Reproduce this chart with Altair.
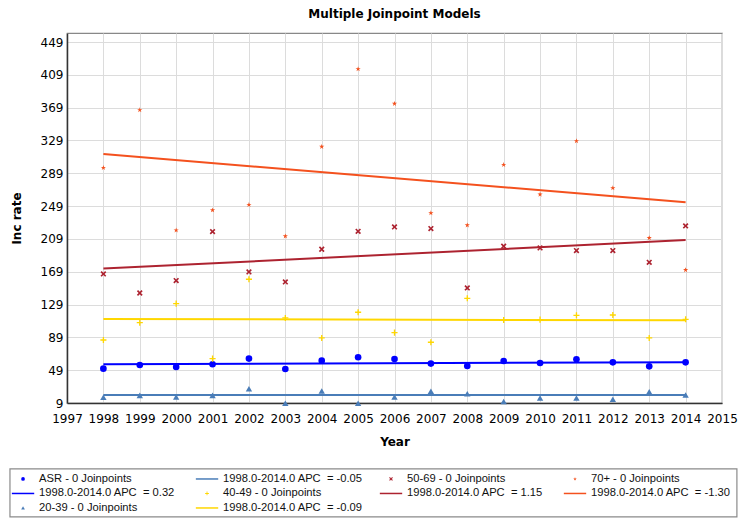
import altair as alt
import pandas as pd

# ---------------- data ----------------
years = list(range(1998, 2015))
series_names = ["ASR", "20-39", "40-49", "50-69", "70+"]

asr = [50.9, 55.3, 52.9, 56.2, 63.1, 50.5, 60.6, 64.7, 62.7, 57.0, 54.1, 60.2, 57.8, 62.3, 58.6, 53.7, 58.6]
age_20_39 = [15.9, 18.3, 16.3, 18.3, 26.5, 8.8, 23.6, 8.8, 16.3, 23.2, 20.4, 10.8, 15.1, 15.1, 13.5, 22.8, 18.8]
age_40_49 = [85.8, 107.0, 130.1, 63.1, 159.8, 112.7, 88.3, 119.6, 94.8, 83.0, 136.6, 110.2, 110.6, 115.9, 116.3, 88.3, 111.0]
age_50_69 = [166.3, 143.1, 158.2, 217.9, 168.8, 156.6, 196.4, 218.3, 223.6, 221.6, 149.2, 200.1, 198.0, 194.8, 194.8, 180.5, 224.9]
age_70p = [295.7, 366.1, 219.6, 244.1, 250.6, 212.3, 321.4, 416.1, 373.8, 240.5, 225.7, 299.4, 263.2, 328.3, 271.0, 210.2, 171.2]

fit_years = [1998, 2014]
fit_start = [56.2, 18.8, 111.4, 172.8, 312.4]
fit_end = [58.8, 18.6, 109.8, 207.6, 253.6]
apc_labels = ["0.32", "-0.05", "-0.09", "1.15", "-1.30"]

x_ticks = list(range(1997, 2016))
y_ticks = list(range(9, 450, 40))

# ---------------- styles ----------------
colors = ["#0000ff", "#4a7db8", "#ffd700", "#ad2330", "#f4511e"]
star = ("M0,-1L0.2245,-0.309L0.9511,-0.309L0.3633,0.118L0.5878,0.809L0,0.382"
        "L-0.5878,0.809L-0.3633,0.118L-0.9511,-0.309L-0.2245,-0.309Z")
xmark = ("M-1,-0.6L-0.6,-1L0,-0.4L0.6,-1L1,-0.6L0.4,0L1,0.6L0.6,1L0,0.4"
         "L-0.6,1L-1,0.6L-0.4,0Z")
plus = ("M-1,-0.22L-0.22,-0.22L-0.22,-1L0.22,-1L0.22,-0.22L1,-0.22L1,0.22"
        "L0.22,0.22L0.22,1L-0.22,1L-0.22,0.22L-1,0.22Z")
shapes = ["circle", "triangle-up", plus, xmark, star]
sizes = [44, 30, 30, 22, 32]

PLOT_W, PLOT_H = 655, 370

# ---------------- tables ----------------
all_vals = [asr, age_20_39, age_40_49, age_50_69, age_70p]
pts_rows = []
for name, vals in zip(series_names, all_vals):
    for yr, v in zip(years, vals):
        pts_rows.append({"series": name, "year": yr, "value": v})
pts_df = pd.DataFrame(pts_rows)

fit_rows = []
for name, a, b in zip(series_names, fit_start, fit_end):
    fit_rows.append({"series": name, "year": fit_years[0], "value": a})
    fit_rows.append({"series": name, "year": fit_years[1], "value": b})
fit_df = pd.DataFrame(fit_rows)

# legend entries: a points entry and a fit entry for each series
legend_items = []
for name, apc in zip(series_names, apc_labels):
    legend_items.append({"series": name, "kind": "pts", "label": f"{name} - 0 Joinpoints"})
    legend_items.append({"series": name, "kind": "fit", "label": f"1998.0-2014.0 APC \u00a0= {apc}"})
slots = [(0, 0), (0, 1), (0, 2), (1, 0), (1, 1), (1, 2), (2, 0), (2, 1), (3, 0), (3, 1)]
for item, (c, r) in zip(legend_items, slots):
    item["col"] = c
    item["row"] = r
leg_df = pd.DataFrame(legend_items)

# legend frame spans the slot grid with a margin (in slot units)
box_df = pd.DataFrame([{
    "c0": min(s[0] for s in slots) - 0.158, "c1": max(s[0] for s in slots) + 0.793,
    "r0": min(s[1] for s in slots) - 0.69, "r1": max(s[1] for s in slots) + 0.62,
}])

# ---------------- scales ----------------
color_scale = alt.Scale(domain=series_names, range=colors)
shape_scale = alt.Scale(domain=series_names, range=shapes)
size_scale = alt.Scale(domain=series_names, range=sizes)

x_enc = alt.X("year:Q",
              scale=alt.Scale(domain=[1997, 2015], nice=False, zero=False),
              axis=alt.Axis(values=x_ticks, format="d", title="Year",
                            labelPadding=10, titlePadding=12, labelOverlap=False,
                            labelFlush=False))
y_enc = alt.Y("value:Q",
              scale=alt.Scale(domain=[9, 460], nice=False, zero=False),
              axis=alt.Axis(values=y_ticks, title="Inc rate", labelPadding=4,
                            titlePadding=17, labelOverlap=False, labelFlush=False))

lines = alt.Chart(fit_df).mark_line(strokeWidth=2).encode(
    x=x_enc, y=y_enc,
    color=alt.Color("series:N", scale=color_scale, legend=None),
    detail="series:N",
)
points = alt.Chart(pts_df).mark_point(filled=True, opacity=1).encode(
    x=x_enc, y=y_enc,
    color=alt.Color("series:N", scale=color_scale, legend=None),
    shape=alt.Shape("series:N", scale=shape_scale, legend=None),
    size=alt.Size("series:N", scale=size_scale, legend=None),
)
main = alt.layer(lines, points)

# ---------------- legend (own scales, drawn below the plot) ----------------
leg_xscale = alt.Scale(domain=[0.152, 3.712], nice=False, zero=False)
leg_yscale = alt.Scale(domain=[-30.76, -5.24], reverse=True, nice=False, zero=False)
lx = alt.X("col:Q", scale=leg_xscale, axis=None)
ly = alt.Y("row:Q", scale=leg_yscale, axis=None)

leg_box = alt.Chart(box_df).mark_rect(fillOpacity=0, stroke="#8a8a8a", strokeWidth=1.2).encode(
    x=alt.X("c0:Q", scale=leg_xscale, axis=None), x2="c1:Q",
    y=alt.Y("r0:Q", scale=leg_yscale, axis=None), y2="r1:Q",
)
leg_base = alt.Chart(leg_df).encode(x=lx, y=ly)
leg_text = leg_base.mark_text(align="left", baseline="middle", font="Liberation Sans",
                              fontSize=11.2, color="#111").encode(text="label:N")
leg_syms = leg_base.transform_filter(alt.datum.kind == "pts").mark_point(
    filled=True, opacity=1, size=14, xOffset=-16).encode(
    color=alt.Color("series:N", scale=color_scale, legend=None),
    shape=alt.Shape("series:N", scale=shape_scale, legend=None),
)
leg_lines = leg_base.transform_filter(alt.datum.kind == "fit").mark_point(
    shape="stroke", filled=False, opacity=1, size=500, strokeWidth=1.5, xOffset=-16).encode(
    color=alt.Color("series:N", scale=color_scale, legend=None),
)
legend_layer = alt.layer(leg_box, leg_lines, leg_syms, leg_text)

chart = alt.layer(main, legend_layer).resolve_scale(
    x="independent", y="independent"
).properties(
    width=PLOT_W, height=PLOT_H, padding=0,
    title=alt.Title("Multiple Joinpoint Models", anchor="middle", fontSize=12,
                    font="DejaVu Sans", fontWeight="bold", color="black", offset=12),
).configure_view(
    stroke="#888", strokeWidth=1.2,
).configure_axis(
    grid=True, gridColor="#dcdcdc", gridWidth=1,
    domainColor="#333", domainWidth=1.5, tickSize=0,
    labelFont="DejaVu Sans", labelFontSize=12, labelColor="black",
    titleFont="DejaVu Sans", titleFontSize=12, titleFontWeight="bold", titleColor="black",
)

chart.save("out.html", embed_options={"renderer": "svg", "actions": False})
